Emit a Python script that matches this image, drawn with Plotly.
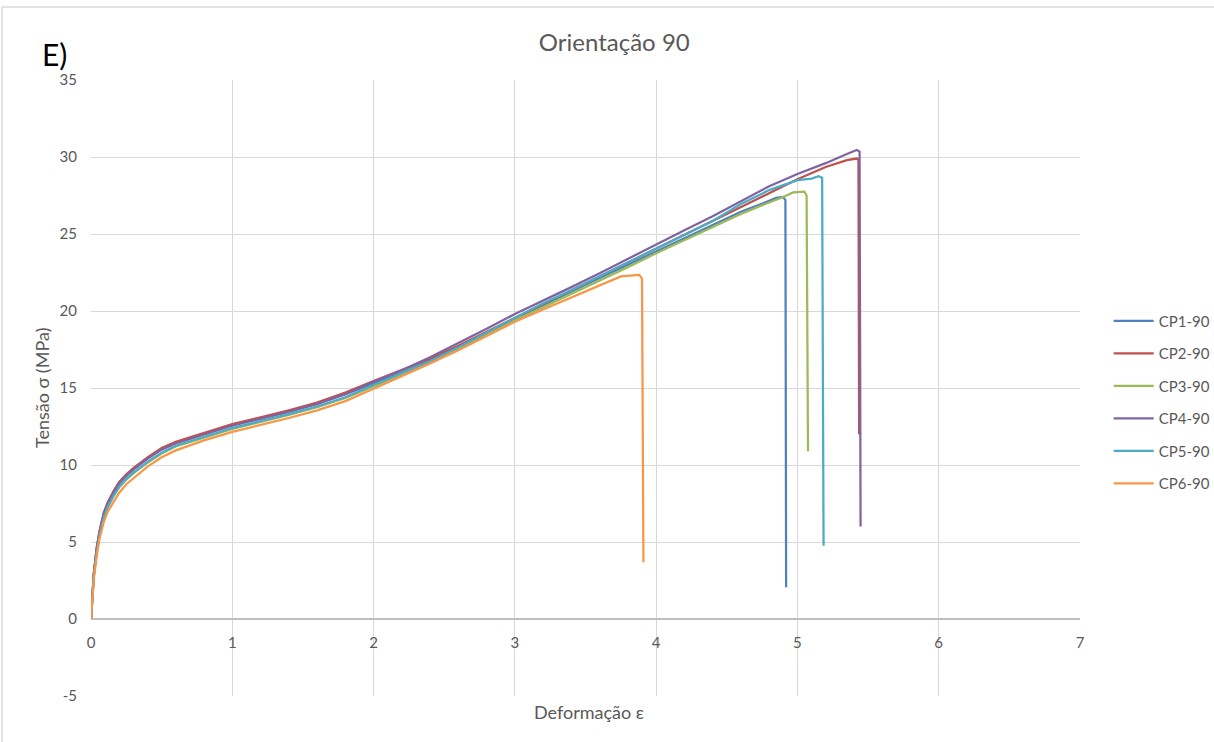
import plotly.graph_objects as go

# Stress-strain curves, orientation 90 (strain ε, stress σ in MPa)
cp1_x = [0, 0.01, 0.02, 0.04, 0.06, 0.09, 0.12, 0.16, 0.2, 0.25, 0.3, 0.4, 0.5, 0.6, 0.8, 1.0,
         1.2, 1.4, 1.6, 1.8, 2.0, 2.2, 2.4, 2.6, 2.8, 3.0, 3.2, 3.4, 3.6, 3.8, 4.0, 4.2, 4.4,
         4.6, 4.8, 4.85, 4.9, 4.915, 4.92]
cp1_y = [0, 1.75, 2.95, 4.55, 5.65, 6.85, 7.55, 8.25, 8.85, 9.35, 9.75, 10.45, 11.05, 11.45,
         12.05, 12.6, 13.05, 13.5, 14.0, 14.6, 15.3, 16.0, 16.8, 17.65, 18.55, 19.5, 20.4,
         21.25, 22.15, 23.0, 23.85, 24.75, 25.6, 26.45, 27.15, 27.35, 27.4, 27.2, 2.06]

cp2_x = [0, 0.01, 0.02, 0.04, 0.06, 0.09, 0.12, 0.16, 0.2, 0.25, 0.3, 0.4, 0.5, 0.6, 0.8, 1.0,
         1.2, 1.4, 1.6, 1.8, 2.0, 2.2, 2.4, 2.6, 2.8, 3.0, 3.2, 3.4, 3.6, 3.8, 4.0, 4.2, 4.4,
         4.6, 4.8, 5.0, 5.2, 5.35, 5.42, 5.432, 5.437]
cp2_y = [0, 1.8, 3.0, 4.6, 5.7, 6.9, 7.6, 8.3, 8.9, 9.4, 9.8, 10.5, 11.1, 11.5, 12.1, 12.65,
         13.1, 13.55, 14.05, 14.7, 15.45, 16.15, 16.9, 17.75, 18.65, 19.55, 20.45, 21.3, 22.2,
         23.1, 24.0, 24.9, 25.8, 26.7, 27.6, 28.55, 29.35, 29.8, 29.9, 29.8, 12.0]

cp3_x = [0, 0.01, 0.02, 0.04, 0.06, 0.09, 0.12, 0.16, 0.2, 0.25, 0.3, 0.4, 0.5, 0.6, 0.8, 1.0,
         1.2, 1.4, 1.6, 1.8, 2.0, 2.2, 2.4, 2.6, 2.8, 3.0, 3.2, 3.4, 3.6, 3.8, 4.0, 4.2, 4.4,
         4.6, 4.8, 4.9, 4.97, 5.05, 5.065, 5.075]
cp3_y = [0, 1.6, 2.8, 4.3, 5.4, 6.6, 7.3, 8.0, 8.55, 9.05, 9.45, 10.15, 10.75, 11.2, 11.8,
         12.35, 12.8, 13.25, 13.75, 14.35, 15.1, 15.85, 16.65, 17.5, 18.45, 19.4, 20.25, 21.1,
         21.95, 22.85, 23.75, 24.6, 25.45, 26.3, 27.05, 27.4, 27.7, 27.75, 27.5, 10.9]

cp4_x = [0, 0.01, 0.02, 0.04, 0.06, 0.09, 0.12, 0.16, 0.2, 0.25, 0.3, 0.4, 0.5, 0.6, 0.8, 1.0,
         1.2, 1.4, 1.6, 1.8, 2.0, 2.2, 2.4, 2.6, 2.8, 3.0, 3.2, 3.4, 3.6, 3.8, 4.0, 4.2, 4.4,
         4.6, 4.8, 5.0, 5.2, 5.35, 5.42, 5.44, 5.447]
cp4_y = [0, 1.7, 2.9, 4.5, 5.6, 6.8, 7.5, 8.2, 8.8, 9.3, 9.7, 10.4, 11.0, 11.4, 12.0, 12.55,
         13.0, 13.45, 13.95, 14.6, 15.4, 16.15, 17.0, 17.9, 18.85, 19.8, 20.65, 21.55, 22.45,
         23.4, 24.3, 25.25, 26.15, 27.1, 28.1, 28.9, 29.6, 30.2, 30.45, 30.35, 6.0]

cp5_x = [0, 0.01, 0.02, 0.04, 0.06, 0.09, 0.12, 0.16, 0.2, 0.25, 0.3, 0.4, 0.5, 0.6, 0.8, 1.0,
         1.2, 1.4, 1.6, 1.8, 2.0, 2.2, 2.4, 2.6, 2.8, 3.0, 3.2, 3.4, 3.6, 3.8, 4.0, 4.2, 4.4,
         4.6, 4.8, 5.0, 5.1, 5.15, 5.175, 5.185]
cp5_y = [0, 1.6, 2.8, 4.3, 5.4, 6.6, 7.3, 8.0, 8.6, 9.1, 9.5, 10.2, 10.8, 11.25, 11.85, 12.4,
         12.85, 13.3, 13.8, 14.4, 15.2, 15.95, 16.75, 17.65, 18.6, 19.6, 20.5, 21.35, 22.25,
         23.15, 24.05, 24.95, 25.85, 26.95, 27.85, 28.5, 28.6, 28.75, 28.65, 4.76]

cp6_x = [0, 0.01, 0.02, 0.04, 0.06, 0.09, 0.12, 0.16, 0.2, 0.25, 0.3, 0.4, 0.5, 0.6, 0.8, 1.0,
         1.2, 1.4, 1.6, 1.8, 2.0, 2.2, 2.4, 2.6, 2.8, 3.0, 3.2, 3.4, 3.6, 3.7, 3.75, 3.88, 3.9,
         3.91]
cp6_y = [0, 1.5, 2.6, 4.1, 5.2, 6.3, 7.0, 7.6, 8.2, 8.75, 9.15, 9.9, 10.5, 10.95, 11.6, 12.15,
         12.6, 13.05, 13.55, 14.15, 14.95, 15.75, 16.6, 17.45, 18.4, 19.3, 20.1, 20.9, 21.7,
         22.05, 22.25, 22.35, 22.1, 3.68]

series_names = ["CP1-90", "CP2-90", "CP3-90", "CP4-90", "CP5-90", "CP6-90"]
series_x = [cp1_x, cp2_x, cp3_x, cp4_x, cp5_x, cp6_x]
series_y = [cp1_y, cp2_y, cp3_y, cp4_y, cp5_y, cp6_y]
colors = ["#4F81BD", "#C0504D", "#9BBB59", "#8064A2", "#4BACC6", "#F79646"]

x_ticks = [0, 1, 2, 3, 4, 5, 6, 7]
y_ticks = [-5, 0, 5, 10, 15, 20, 25, 30, 35]
y_tick_labels = ["-5", "0", "5", "10", "15", "20", "25", "30", "35"]

FONT = "Lato, Open Sans, sans-serif"
GREY = "#595959"

fig = go.Figure()
for name, xs, ys, c in zip(series_names, series_x, series_y, colors):
    fig.add_trace(go.Scatter(x=xs, y=ys, mode="lines", name=name, legendgroup=name,
                             line=dict(color=c, width=2.25)))

fig.update_layout(
    width=1214, height=742,
    margin=dict(l=91, r=134, t=80, b=46, autoexpand=False),
    paper_bgcolor="white", plot_bgcolor="white",
    font=dict(family=FONT, color=GREY, size=15),
    title=dict(text="Orientação 90", x=0.506, xref="container", xanchor="center",
               y=0.943, yref="container", yanchor="middle",
               font=dict(size=24, color=GREY, family=FONT)),
    legend=dict(x=1.029, y=0.477, xanchor="left", yanchor="middle",
                traceorder="grouped", tracegroupgap=10,
                font=dict(size=15, color=GREY), itemwidth=40,
                bgcolor="rgba(0,0,0,0)"),
    xaxis=dict(range=[0, 7.0001], tickvals=x_ticks, showgrid=True, gridcolor="#D9D9D9",
               gridwidth=1, zeroline=False, showline=False, anchor="free",
               position=0.125, ticks="", ticklabelstandoff=13,
               tickfont=dict(size=15, color=GREY)),
    yaxis=dict(range=[-5.0001, 35], tickvals=y_ticks, ticktext=y_tick_labels,
               showgrid=True, gridcolor="#D9D9D9",
               gridwidth=1, zeroline=True, zerolinecolor="#BFBFBF", zerolinewidth=1.5,
               showline=False, ticks="", ticklabelstandoff=13,
               tickfont=dict(size=15, color=GREY)),
    annotations=[
        dict(text="Tensão σ (MPa)", x=-0.0495, y=0.5, xref="paper", yref="paper",
             textangle=-90, showarrow=False, xanchor="center", yanchor="middle",
             font=dict(size=18, color=GREY)),
        dict(text="Deformação ε", x=0.504, y=-0.026, xref="paper", yref="paper",
             showarrow=False, xanchor="center", yanchor="middle",
             font=dict(size=18, color=GREY)),
        dict(text="E)", x=-0.037, y=1.042, xref="paper", yref="paper",
             showarrow=False, xanchor="center", yanchor="middle",
             font=dict(size=30, color="black")),
    ],
    shapes=[
        dict(type="line", xref="paper", yref="paper", x0=-0.09, x1=1.14, y0=1.1185,
             y1=1.1185, line=dict(color="#D9D9D9", width=1.5)),
        dict(type="line", xref="paper", yref="paper", x0=-0.09, x1=-0.09, y0=1.1185,
             y1=-0.08, line=dict(color="#D9D9D9", width=1.5)),
    ],
)

fig.write_html("out.html")
